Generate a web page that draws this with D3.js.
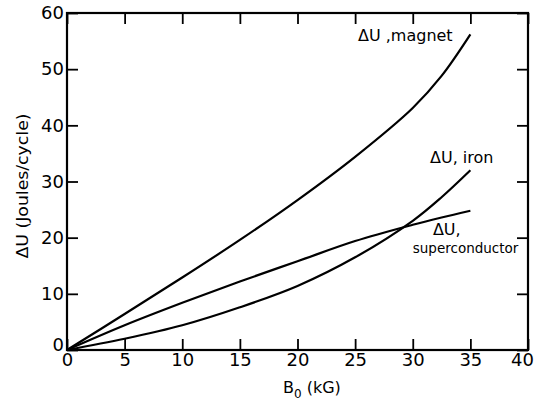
<!DOCTYPE html>
<html>
<head>
<meta charset="utf-8">
<script src="https://cdn.jsdelivr.net/npm/d3@7"></script>
<style>
  body { margin: 0; background: #fff; }
  text { font-family: "DejaVu Sans", sans-serif; fill: #000; }
</style>
</head>
<body>
<script>
// field values (kG) and energy per cycle (Joules/cycle)
var bValues = [0, 5, 10, 15, 20, 25, 30, 32.5, 35];
var magnet = [0, 6.4, 12.9, 19.6, 26.7, 34.4, 43.1, 48.8, 56.2];
var iron = [0, 2, 4.4, 7.6, 11.4, 16.5, 23, 27.2, 32];
var superconductor = [0, 4.4, 8.4, 12.2, 15.8, 19.4, 22.3, 23.6, 24.8];
var xTicks = [0, 5, 10, 15, 20, 25, 30, 35, 40];
var yTicks = [0, 10, 20, 30, 40, 50, 60];

var margin = { top: 13, right: 6, bottom: 50, left: 67 },
  width = 534 - margin.left - margin.right,
  height = 400 - margin.top - margin.bottom;

var x = d3.scaleLinear().domain([0, 40]).range([0, width]);
var y = d3.scaleLinear().domain([0, 60]).range([height, 0]);

var svg = d3.select("body").append("svg")
  .attr("width", 534)
  .attr("height", 400)
  .append("g")
  .attr("transform", "translate(" + margin.left + "," + margin.top + ")");

// frame
svg.append("rect")
  .attr("width", width)
  .attr("height", height)
  .attr("fill", "none")
  .attr("stroke", "#000")
  .attr("stroke-width", 2.2);

// axes, ticks pointing inward on all four sides
var xAxis = svg.append("g")
  .attr("transform", "translate(0," + height + ")")
  .call(d3.axisBottom(x).tickValues(xTicks).tickSize(-11).tickPadding(3));
var yAxis = svg.append("g")
  .call(d3.axisLeft(y).tickValues(yTicks).tickSize(-11).tickPadding(3));
svg.append("g")
  .call(d3.axisTop(x).tickValues(xTicks).tickSize(-11).tickFormat(""));
svg.append("g")
  .attr("transform", "translate(" + width + ",0)")
  .call(d3.axisRight(y).tickValues(yTicks).tickSize(-11).tickFormat(""));

svg.selectAll(".domain").remove();
svg.selectAll(".tick line").attr("stroke", "#000").attr("stroke-width", 1.8);
svg.selectAll(".tick text")
  .attr("font-size", 18)
  .style("font-family", "'DejaVu Sans', sans-serif");
xAxis.selectAll(".tick text").filter(function (d) { return d === 40; }).attr("dx", -6);
yAxis.selectAll(".tick text").filter(function (d) { return d === 0; }).attr("dy", "0.05em");

// curves
var line = d3.line()
  .x(function (d) { return x(d[0]); })
  .y(function (d) { return y(d[1]); })
  .curve(d3.curveCatmullRom);

[magnet, iron, superconductor].forEach(function (series) {
  svg.append("path")
    .datum(bValues.map(function (b, i) { return [b, series[i]]; }))
    .attr("fill", "none")
    .attr("stroke", "#000")
    .attr("stroke-width", 2.2)
    .attr("d", line);
});

// curve labels
function label(tx, ty, str, size) {
  svg.append("text")
    .attr("x", x(tx))
    .attr("y", y(ty))
    .attr("font-size", size)
    .text(str);
}
label(25.25, 55.0, "\u0394U ,magnet", 16);
label(31.5, 33.3, "\u0394U, iron", 16);
label(31.75, 20.5, "\u0394U,", 16);
label(30.0, 17.3, "superconductor", 13.5);

// axis titles
svg.append("text")
  .attr("transform", "translate(-39," + (186 - margin.top) + ") rotate(-90)")
  .attr("text-anchor", "middle")
  .attr("font-size", 16)
  .attr("textLength", 145)
  .attr("lengthAdjust", "spacingAndGlyphs")
  .text("\u0394U (Joules/cycle)");

var xt = svg.append("text")
  .attr("x", 216)
  .attr("y", height + 43)
  .attr("font-size", 16);
xt.append("tspan").text("B");
xt.append("tspan").attr("font-size", 12).attr("dy", 5).text("0");
xt.append("tspan").attr("dy", -5).text(" (kG)");
</script>
</body>
</html>
